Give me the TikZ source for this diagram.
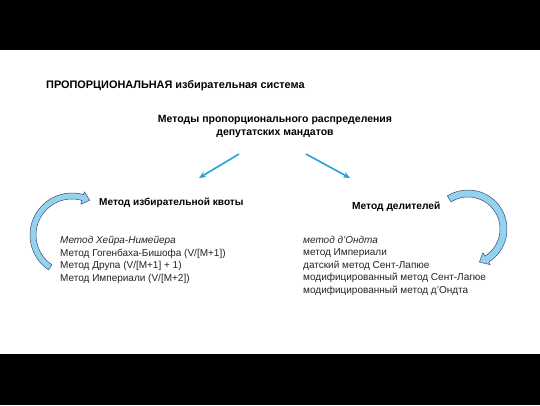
\documentclass[tikz,border=0pt]{standalone}
\usepackage{fontspec}
\setmainfont{Liberation Sans}
\usetikzlibrary{arrows.meta}

\definecolor{arrowblue}{RGB}{38,160,218}
\definecolor{ribbonfill}{RGB}{150,210,238}
\definecolor{ribbonline}{RGB}{55,75,120}
\definecolor{bodytext}{RGB}{35,35,35}

\tikzset{
 head/.style={font=\bfseries\fontsize{10.5}{13}\selectfont, inner sep=0},
 listtext/.style={font=\fontsize{10}{12.5}\selectfont, text=bodytext, align=left, inner sep=0, anchor=north west},
 pointer/.style={arrowblue, line width=1.6pt, -{Stealth[length=7pt,width=6pt]}},
 ribbon/.style={fill=ribbonfill, draw=ribbonline, line width=.5pt, line join=round}
}

\begin{document}
\begin{tikzpicture}[x=1pt,y=-1pt]
\useasboundingbox (0,0) rectangle (540,405);
\fill[black] (0,0) rectangle (540,50);
\fill[black] (0,354) rectangle (540,405);

\node[head, anchor=west, font=\bfseries\fontsize{10.9}{13}\selectfont] (title) at (46,86) {ПРОПОРЦИОНАЛЬНАЯ избирательная система};
\node[head, align=center] (methods) at (275,126) {Методы пропорционального распределения\\депутатских мандатов};
\node[head, anchor=west, font=\bfseries\fontsize{10.1}{13}\selectfont] (quota) at (99,203) {Метод избирательной квоты};
\node[head, anchor=west, font=\bfseries\fontsize{10.2}{13}\selectfont] (divisors) at (352,207) {Метод делителей};

\node[listtext] (quotalist) at (60,236) {\textit{Метод Хейра-Нимейера}\\
 Метод Гогенбаха-Бишофа (V/[M+1])\\
 Метод Друпа (V/[M+1] + 1)\\
 Метод Империали (V/[M+2])};
\node[listtext] (divisorlist) at (303,236) {\textit{метод д’Ондта}\\
 метод Империали\\
 датский метод Сент-Лапюе\\
 модифицированный метод Сент-Лагюе\\
 модифицированный метод д’Ондта};

% straight pointers
\coordinate (leftstart) at (239,154);
\coordinate (rightstart) at (306,154);
\coordinate (leftend) at (199,178);
\coordinate (rightend) at (350,178);
\draw[pointer] (leftstart) -- (leftend);
\draw[pointer] (rightstart) -- (rightend);

% curved ribbons
\draw[ribbon, shift={(72,235)}] (124:42) arc[start angle=124, end angle=286, radius=42]
 -- (286:45) -- (297:39) -- (286:32) -- (286:36) arc[start angle=286, end angle=124, radius=36] -- cycle;
\draw[ribbon, shift={(468,229)}] (238:39) arc[start angle=238, end angle=418, radius=39]
 -- (418:42) -- (431:35) -- (418:28) -- (418:32) arc[start angle=418, end angle=238, radius=32] -- cycle;
\end{tikzpicture}
\end{document}
